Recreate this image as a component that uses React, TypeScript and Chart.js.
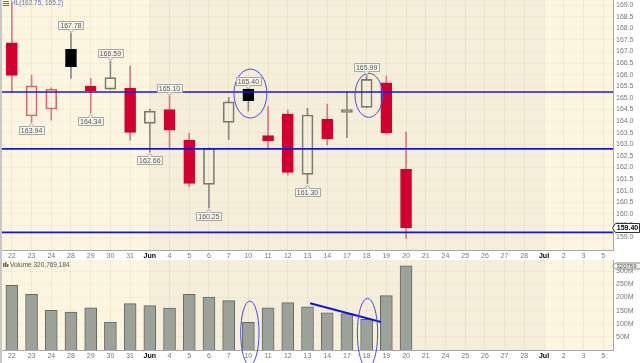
import React, { useEffect, useRef } from "react";
import { Chart, registerables } from "chart.js";
Chart.register(...registerables);

// ---------- data ----------
const DATES = ["22","23","24","28","29","30","31","Jun","4","5","6","7","10","11","12","13","14","17","18","19","20","21","24","25","26","27","28","Jul","2","3","5"];
const OPEN  = [167.37,164.22,164.52,167.09,165.50,165.38,165.41,163.90,164.50,163.18,161.27,163.94,165.38,163.37,164.30,161.70,164.09,164.37,164.59,165.65,161.92];
const HIGH  = [169.07,165.98,165.44,167.78,165.84,166.59,166.37,164.52,165.10,163.47,162.85,165.02,165.40,164.62,164.47,164.55,164.73,165.26,165.99,165.95,163.54];
const LOW   = [165.25,163.94,164.04,165.84,164.34,165.36,163.18,162.66,162.82,161.17,160.25,163.21,164.43,162.79,161.67,161.30,162.97,163.28,164.57,163.43,158.94];
const CLOSE = [165.97,165.52,165.37,166.34,165.31,165.87,163.51,164.43,163.61,161.31,162.82,164.83,164.88,163.15,161.79,164.26,163.24,164.50,165.80,163.50,159.40];
const PREV_CLOSE = 167.17;
const VOLUME_M = [246.6,212,151,144.7,161,106.5,176.7,169,160,212,202,188,105,161,180.5,165,142,138.5,117,207,320.769184];
const VOLUME_LAST = "320,769,184";
const VOLUME_LAST_SHORT = "320769";
const PRICE_TICKS = [159,159.25,159.5,159.75,160,160.25,160.5,160.75,161,161.25,161.5,161.75,162,162.25,162.5,162.75,163,163.25,163.5,163.75,164,164.25,164.5,164.75,165,165.25,165.5,165.75,166,166.25,166.5,166.75,167,167.25,167.5,167.75,168,168.25,168.5,168.75,169];
const VOLUME_TICKS = [50,100,150,200,250,300];
const HL_LABEL = "HL(162.75, 165.2)";
const HL_LEVELS = [165.25, 162.8, 159.2];
const LABEL_IDX  = [1,3,4,5,7,8,10,12,15,18];
const LABEL_SIDE = ["low","high","low","high","low","high","low","high","low","high"];
const LAST_PRICE = 159.40;
// ellipses: [x index from, x index to, value from, value to]
const PRICE_ELLIPSES = [[11.27,12.94,164.13,166.24],[17.41,18.81,164.16,166.06]];
const VOLUME_ELLIPSES = [[11.61,12.54,-57,186.7],[17.53,18.56,-68,197]];
// volume trend line: [x index, value M]
const VOL_TREND = [[15.13,178],[18.73,106.7]];

// ---------- styles ----------
const FONT = '"Liberation Sans", Arial, sans-serif';
const RED = "#d2002e";
const BG_A = "#fcf6e1";
const BG_B = "#f4eedb";
const GRID = "rgba(185,165,115,0.16)";
const BLUE = "#1414e6";

const prevClose = (i: number) => (i === 0 ? PREV_CLOSE : CLOSE[i - 1]);
const isUp = (i: number) => CLOSE[i] >= prevClose(i);
const isFilled = (i: number) => CLOSE[i] < OPEN[i];

const bodyBg = OPEN.map((_, i) => (isFilled(i) ? (isUp(i) ? "#000000" : RED) : "rgba(0,0,0,0)"));
const bodyBorder = OPEN.map((_, i) => (isFilled(i) ? (isUp(i) ? "#000000" : RED) : isUp(i) ? "#7a7a72" : "#e0606e"));
const wickColor = OPEN.map((_, i) => (isUp(i) ? "#8a8a84" : "#e07680"));

const bgPlugin = {
  id: "bgShade",
  beforeDraw(chart: any) {
    const { ctx, chartArea: a, scales } = chart;
    const x = scales.x;
    ctx.save();
    ctx.fillStyle = "#c8c8c8";
    ctx.fillRect(0, 0, 2, chart.height);
    ctx.fillStyle = BG_A;
    ctx.fillRect(a.left, a.top, a.right - a.left, a.bottom - a.top);
    const x0 = x.getPixelForValue(DATES.indexOf("Jun"));
    const x1 = x.getPixelForValue(DATES.indexOf("Jul"));
    ctx.fillStyle = BG_B;
    ctx.fillRect(x0, a.top, x1 - x0, a.bottom - a.top);
    ctx.restore();
  },
};

function callout(ctx: CanvasRenderingContext2D, x: number, y: number, text: string, above: boolean) {
  ctx.font = `7px ${FONT}`;
  const w = Math.round(ctx.measureText(text).width + 4);
  const h = 8;
  const bx = Math.round(x - w / 2) + 0.5;
  const by = above ? Math.round(y - 4 - h) + 0.5 : Math.round(y + 4) + 0.5;
  ctx.fillStyle = "#f6f5ee";
  ctx.strokeStyle = "#a9a8a0";
  ctx.lineWidth = 1;
  ctx.beginPath();
  ctx.rect(bx, by, w, h);
  ctx.fill();
  ctx.stroke();
  ctx.beginPath();
  if (above) {
    ctx.moveTo(x - 3, by + h);
    ctx.lineTo(x, by + h + 3);
    ctx.lineTo(x + 3, by + h);
  } else {
    ctx.moveTo(x - 3, by);
    ctx.lineTo(x, by - 3);
    ctx.lineTo(x + 3, by);
  }
  ctx.fill();
  ctx.stroke();
  ctx.fillStyle = "#555";
  ctx.textAlign = "center";
  ctx.textBaseline = "middle";
  ctx.fillText(text, x, by + h / 2 + 0.5);
}

function ellipse(ctx: CanvasRenderingContext2D, x: any, y: any, e: number[]) {
  const px0 = x.getPixelForValue(e[0]);
  const px1 = x.getPixelForValue(e[1]);
  const py0 = y.getPixelForValue(e[2]);
  const py1 = y.getPixelForValue(e[3]);
  ctx.beginPath();
  ctx.ellipse((px0 + px1) / 2, (py0 + py1) / 2, Math.abs(px1 - px0) / 2, Math.abs(py1 - py0) / 2, 0, 0, Math.PI * 2);
  ctx.stroke();
}

const pricePlugin = {
  id: "priceAnn",
  afterDatasetsDraw(chart: any) {
    const { ctx, chartArea: a, scales } = chart;
    const x = scales.x, y = scales.y;
    ctx.save();
    // HL lines
    ctx.strokeStyle = BLUE;
    ctx.lineWidth = 1.6;
    HL_LEVELS.forEach((v) => {
      const py = y.getPixelForValue(v);
      ctx.beginPath();
      ctx.moveTo(a.left, py);
      ctx.lineTo(a.right, py);
      ctx.stroke();
    });
    // ellipses
    ctx.strokeStyle = "#4a4ae8";
    ctx.lineWidth = 1;
    PRICE_ELLIPSES.forEach((e) => ellipse(ctx, x, y, e));
    // callouts
    LABEL_IDX.forEach((i, k) => {
      const hi = LABEL_SIDE[k] === "high";
      const v = hi ? HIGH[i] : LOW[i];
      callout(ctx, x.getPixelForValue(i), y.getPixelForValue(v), v.toFixed(2), hi);
    });
    // header
    ctx.fillStyle = "#5a6cc0";
    ctx.fillRect(3, 1, 6, 1);
    ctx.fillRect(3, 3, 6, 1);
    ctx.fillRect(3, 5, 6, 1);
    ctx.font = `6.5px ${FONT}`;
    ctx.fillStyle = "#6672a6";
    ctx.textAlign = "left";
    ctx.textBaseline = "middle";
    ctx.fillText(HL_LABEL, 11, 3.5);
    // last price box
    const ly = Math.round(y.getPixelForValue(LAST_PRICE));
    const bx = a.right + 1.5;
    ctx.fillStyle = "#ffffff";
    ctx.strokeStyle = "#333";
    ctx.beginPath();
    ctx.moveTo(bx - 2, ly);
    ctx.lineTo(bx + 1, ly - 4.5);
    ctx.lineTo(bx + 25, ly - 4.5);
    ctx.lineTo(bx + 25, ly + 4.5);
    ctx.lineTo(bx + 1, ly + 4.5);
    ctx.closePath();
    ctx.fill();
    ctx.stroke();
    ctx.fillStyle = "#000";
    ctx.font = `bold 7px ${FONT}`;
    ctx.textAlign = "center";
    ctx.fillText(LAST_PRICE.toFixed(2), bx + 13, ly + 0.5);
    ctx.restore();
  },
};

const volPlugin = {
  id: "volAnn",
  afterDatasetsDraw(chart: any) {
    const { ctx, chartArea: a, scales } = chart;
    const x = scales.x, y = scales.y;
    ctx.save();
    ctx.strokeStyle = BLUE;
    ctx.lineWidth = 2;
    ctx.beginPath();
    ctx.moveTo(x.getPixelForValue(VOL_TREND[0][0]), y.getPixelForValue(VOL_TREND[0][1]));
    ctx.lineTo(x.getPixelForValue(VOL_TREND[1][0]), y.getPixelForValue(VOL_TREND[1][1]));
    ctx.stroke();
    ctx.strokeStyle = "#4a4ae8";
    ctx.lineWidth = 1;
    VOLUME_ELLIPSES.forEach((e) => ellipse(ctx, x, y, e));
    // header
    ctx.fillStyle = "#666";
    ctx.fillRect(3, a.top + 3, 1.5, 4);
    ctx.fillRect(5, a.top + 2, 1.5, 5);
    ctx.fillRect(7, a.top + 4, 1.5, 3);
    ctx.font = `6.5px ${FONT}`;
    ctx.fillStyle = "#555";
    ctx.textAlign = "left";
    ctx.textBaseline = "middle";
    ctx.fillText("Volume " + VOLUME_LAST, 10, a.top + 5);
    // last volume box
    const ly = Math.round(y.getPixelForValue(VOLUME_M[VOLUME_M.length - 1]));
    const bx = a.right + 1.5;
    ctx.fillStyle = "#f6f5ee";
    ctx.strokeStyle = "#888";
    ctx.beginPath();
    ctx.moveTo(bx - 2, ly);
    ctx.lineTo(bx + 1, ly - 3);
    ctx.lineTo(bx + 30, ly - 3);
    ctx.lineTo(bx + 30, ly + 3);
    ctx.lineTo(bx + 1, ly + 3);
    ctx.closePath();
    ctx.fill();
    ctx.stroke();
    ctx.fillStyle = "#444";
    ctx.font = `6px ${FONT}`;
    ctx.fillText(VOLUME_LAST_SHORT, bx + 2, ly + 0.5);
    ctx.restore();
  },
};

const xAxis = () => ({
  type: "category" as const,
  labels: DATES,
  offset: true,
  grid: { offset: false, color: GRID, drawTicks: false },
  border: { color: "#a8a8a8" },
  ticks: {
    autoSkip: false,
    maxRotation: 0,
    padding: 2,
    font: (c: any) => {
      const l = c.tick && c.tick.label;
      return { family: FONT, size: 7, weight: l === "Jun" || l === "Jul" ? "bold" : "normal" };
    },
    color: (c: any) => {
      const l = c.tick && c.tick.label;
      return l === "Jun" || l === "Jul" ? "#000" : "#777";
    },
  },
  afterFit: (s: any) => {
    s.height = 10;
    s.paddingLeft = 0;
    s.paddingRight = 0;
  },
});

const noPad = (w: number) => (s: any) => {
  s.width = w;
  s.paddingTop = 0;
  s.paddingBottom = 0;
};

export default function App() {
  const priceRef = useRef<HTMLCanvasElement>(null);
  const volRef = useRef<HTMLCanvasElement>(null);

  useEffect(() => {
    const lowerWick = OPEN.map((o, i) => [LOW[i], Math.min(o, CLOSE[i])]);
    const upperWick = OPEN.map((o, i) => [Math.max(o, CLOSE[i]), HIGH[i]]);
    const bodies = OPEN.map((o, i) => [o, CLOSE[i]]);

    const pc = new Chart(priceRef.current!, {
      type: "bar",
      data: {
        labels: DATES,
        datasets: [
          {
            data: bodies as any,
            backgroundColor: bodyBg,
            borderColor: bodyBorder,
            borderWidth: 1,
            borderSkipped: false,
            barThickness: 11,
            grouped: false,
          } as any,
          { data: upperWick as any, backgroundColor: wickColor, borderWidth: 0, barThickness: 1, grouped: false } as any,
          { data: lowerWick as any, backgroundColor: wickColor, borderWidth: 0, barThickness: 1, grouped: false } as any,
        ],
      },
      options: {
        responsive: false,
        animation: false,
        layout: { padding: { left: 2, top: 0, right: 0, bottom: 0 } },
        plugins: { legend: { display: false }, tooltip: { enabled: false } },
        scales: {
          x: xAxis() as any,
          y: {
            position: "right",
            min: 158.44,
            max: 169.22,
            afterBuildTicks: (s: any) => {
              s.ticks = PRICE_TICKS.map((v) => ({ value: v }));
            },
            afterFit: noPad(27),
            grid: { color: GRID, tickLength: 2 },
            border: { color: "#a8a8a8", dash: [1, 1] },
            ticks: {
              padding: 1,
              color: "#777",
              font: { family: FONT, size: 7 },
              callback: (v: any) => (Math.abs((v * 2) % 1) < 1e-6 ? Number(v).toFixed(1) : ""),
            },
          } as any,
        },
      },
      plugins: [bgPlugin, pricePlugin],
    });

    const vc = new Chart(volRef.current!, {
      type: "bar",
      data: {
        labels: DATES,
        datasets: [
          {
            data: VOLUME_M,
            backgroundColor: "#9ca29a",
            borderColor: "#626a64",
            borderWidth: 1,
            borderSkipped: "bottom",
            barThickness: 12,
          } as any,
        ],
      },
      options: {
        responsive: false,
        animation: false,
        layout: { padding: { left: 2, top: 0, right: 0, bottom: 3 } },
        plugins: { legend: { display: false }, tooltip: { enabled: false } },
        scales: {
          x: xAxis() as any,
          y: {
            position: "right",
            min: 0,
            max: 343,
            afterBuildTicks: (s: any) => {
              s.ticks = VOLUME_TICKS.map((v) => ({ value: v }));
            },
            afterFit: noPad(27),
            grid: { color: GRID, tickLength: 2 },
            border: { color: "#a8a8a8", dash: [1, 1] },
            ticks: {
              padding: 1,
              color: "#777",
              font: { family: FONT, size: 7 },
              callback: (v: any) => v + "M",
            },
          } as any,
        },
      },
      plugins: [bgPlugin, volPlugin],
    });

    return () => {
      pc.destroy();
      vc.destroy();
    };
  }, []);

  return (
    <div style={{ position: "fixed", left: 0, top: 0, width: 640, height: 363, background: "#fff", overflow: "hidden" }}>
      <canvas ref={priceRef} width={640} height={260} style={{ position: "absolute", left: 0, top: 0 }} />
      <canvas ref={volRef} width={640} height={103} style={{ position: "absolute", left: 0, top: 260 }} />
    </div>
  );
}
